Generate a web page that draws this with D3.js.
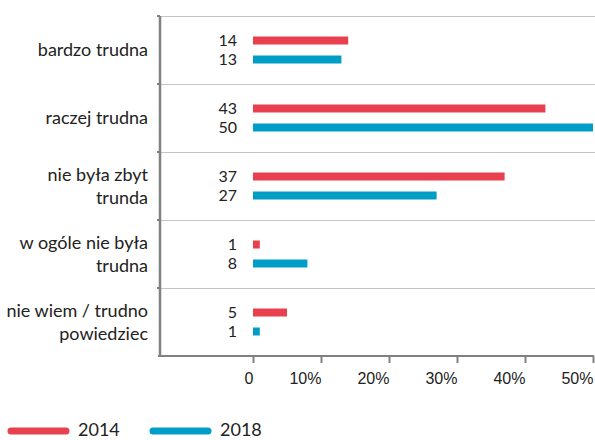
<!DOCTYPE html>
<head>
<meta charset="utf-8">
<title>Ocena trudności</title>
<style>
body { margin: 0; background: #fff; }
svg { font-family: Lato, "Open Sans", sans-serif; display: block; }
.grid line { stroke: #c4c4c4; stroke-width: 1; }
.axis path, .axis line { stroke: #808080; fill: none; }
.axis text { font-size: 16px; fill: #222; }
.lbl { font-size: 18px; fill: #222; }
.val { font-size: 16px; fill: #222; }
.leg { font-size: 18px; fill: #222; }
</style>
<script src="https://d3js.org/d3.v7.min.js"></script>
</head>
<body>
<svg id="chart"></svg>
<script>

// dane
var categories = [
  ["bardzo trudna"],
  ["raczej trudna"],
  ["nie była zbyt", "trunda"],
  ["w ogóle nie była", "trudna"],
  ["nie wiem / trudno", "powiedziec"]
];
var series = ["2014", "2018"];
var values2014 = [14, 43, 37, 1, 5];
var values2018 = [13, 50, 27, 8, 1];
var xTicks = [0, 10, 20, 30, 40, 50];
var xTickLabels = ["0", "10%", "20%", "30%", "40%", "50%"];
var colors = ["#e8404f", "#009ec6"];

var width = 595, height = 440;

var svg = d3.select("#chart")
    .attr("width", width)
    .attr("height", height);

var x = d3.scaleLinear()
    .domain([0, 50])
    .range([253, 593]);

var y = d3.scaleBand()
    .domain(d3.range(categories.length))
    .range([16, 356]);

var ys = d3.scaleOrdinal()
    .domain(series)
    .range([-9.5, 9.5]);

// linie siatki
svg.append("g")
    .attr("class", "grid")
  .selectAll("line")
  .data(d3.range(categories.length))
  .enter().append("line")
    .attr("x1", 160)
    .attr("x2", width)
    .attr("y1", function(d) { return y(d) + 0.5; })
    .attr("y2", function(d) { return y(d) + 0.5; });

// os X
var xAxis = d3.axisBottom(x)
    .tickValues(xTicks)
    .tickFormat(function(d, i) { return xTickLabels[i]; })
    .tickSize(7)
    .tickSizeOuter(0);

var gx = svg.append("g")
    .attr("class", "axis")
    .attr("transform", "translate(0,356)")
    .call(xAxis);
gx.select(".domain").remove();
gx.append("line")
    .attr("x1", 158).attr("x2", 594)
    .attr("y1", 0).attr("y2", 0)
    .attr("stroke-width", 2);
gx.selectAll(".tick line").attr("stroke-width", 2);
gx.selectAll(".tick text")
    .attr("text-anchor", "end")
    .attr("dx", 0)
    .attr("y", 17);

// os Y
var gy = svg.append("g").attr("class", "axis");
gy.append("line")
    .attr("x1", 160).attr("x2", 160)
    .attr("y1", 16).attr("y2", 357)
    .attr("stroke-width", 2.5);
gy.selectAll(".yt")
  .data(d3.range(categories.length))
  .enter().append("line")
    .attr("class", "yt")
    .attr("x1", 157).attr("x2", 160)
    .attr("y1", function(d) { return y(d); })
    .attr("y2", function(d) { return y(d); })
    .attr("stroke-width", 2);

// etykiety kategorii
svg.append("g").selectAll("text")
  .data(categories)
  .enter().append("text")
    .attr("class", "lbl")
    .attr("text-anchor", "end")
    .attr("x", 148)
    .attr("y", function(d, i) {
      var c = y(i) + y.bandwidth() / 2;
      return c - (d.length - 1) * 11.5 + 6;
    })
    .each(function(d) {
      var t = d3.select(this);
      d.forEach(function(line, j) {
        t.append("tspan")
          .attr("x", 148)
          .attr("dy", j === 0 ? 0 : 23)
          .text(line);
      });
    });

// slupki
var rows = [];
categories.forEach(function(c, i) {
  rows.push({ i: i, s: "2014", v: values2014[i], c: colors[0] });
  rows.push({ i: i, s: "2018", v: values2018[i], c: colors[1] });
});

var bh = 8;
svg.append("g").selectAll("rect")
  .data(rows)
  .enter().append("rect")
    .attr("x", x(0))
    .attr("y", function(d) { return y(d.i) + y.bandwidth() / 2 + ys(d.s) - bh / 2; })
    .attr("width", function(d) { return x(d.v) - x(0); })
    .attr("height", bh)
    .attr("fill", function(d) { return d.c; });

svg.append("g").selectAll("text")
  .data(rows)
  .enter().append("text")
    .attr("class", "val")
    .attr("text-anchor", "end")
    .attr("x", x(0) - 16)
    .attr("y", function(d) { return y(d.i) + y.bandwidth() / 2 + ys(d.s) + 5.5; })
    .text(function(d) { return d.v; });

// legenda
var leg = svg.append("g").selectAll("g")
  .data(series)
  .enter().append("g")
    .attr("transform", function(d, i) { return "translate(" + (11 + i * 142) + ",431)"; });
leg.append("line")
    .attr("x1", 0).attr("x2", 55)
    .attr("y1", 0).attr("y2", 0)
    .attr("stroke", function(d, i) { return colors[i]; })
    .attr("stroke-width", 7)
    .attr("stroke-linecap", "round");
leg.append("text")
    .attr("class", "leg")
    .attr("x", 67)
    .attr("y", 5)
    .text(function(d) { return d; });

</script>
</body>
